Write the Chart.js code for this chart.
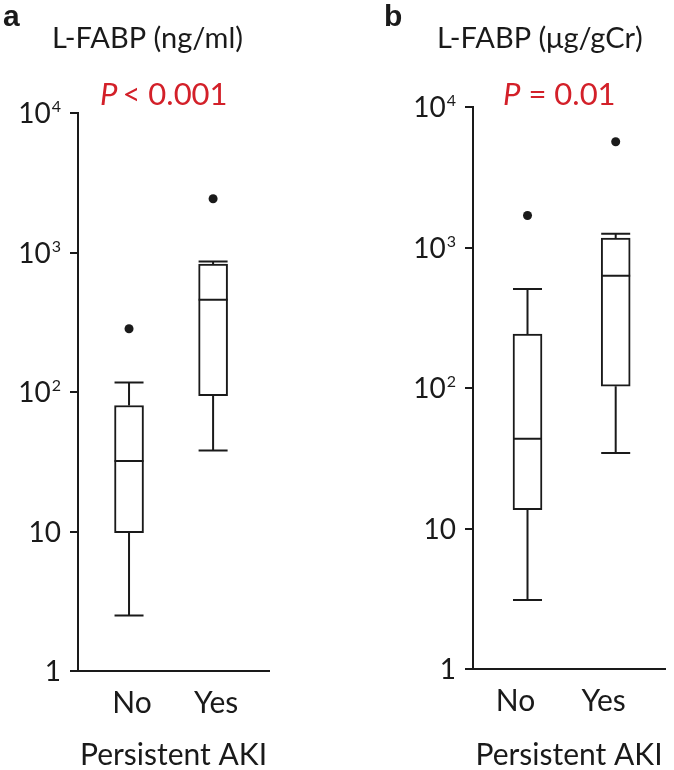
<!DOCTYPE html>
<html>
<head>
<meta charset="utf-8">
<script src="https://cdn.jsdelivr.net/npm/chart.js@4.4.1/dist/chart.umd.min.js"></script>
<style>
  body { margin: 0; background: #fff; }
  #wrap { position: relative; width: 674px; height: 770px; }
  .panel { position: absolute; top: 0; width: 337px; height: 770px; }
</style>
</head>
<body>
<div id="wrap">
  <div class="panel" style="left:0"><canvas id="chartA" width="337" height="770"></canvas></div>
  <div class="panel" style="left:337px"><canvas id="chartB" width="337" height="770"></canvas></div>
</div>
<script>
var categories = ['No', 'Yes'];
var yTickValues = [1, 10, 100, 1000, 10000];
var yTickBase = ['1', '10', '10', '10', '10'];
var yTickExp = ['', '', '2', '3', '4'];

// panel a : L-FABP (ng/ml)
var aMin = [2.5, 38];
var aQ1 = [9.8, 94];
var aMed = [32, 458];
var aQ3 = [80, 827];
var aMax = [117, 863];
var aOut = [284, 2430];

// panel b : L-FABP (ug/gCr)
var bMin = [3.1, 34.5];
var bQ1 = [13.6, 103];
var bMed = [43.5, 630];
var bQ3 = [242, 1169];
var bMax = [507, 1254];
var bOut = [1690, 5660];

var ink = '#1a1a1a';
var red = '#d32029';

function makePanel(id, s) {
  var extras = {
    id: 'extras' + id,
    afterDatasetsDraw: function(chart) {
      var ctx = chart.ctx;
      var xs = chart.scales.x, ys = chart.scales.y;
      var bars = chart.getDatasetMeta(0).data;
      ctx.save();
      ctx.strokeStyle = ink;
      ctx.lineWidth = 2;
      categories.forEach(function(c, i) {
        var x = xs.getPixelForValue(i + 1);
        var h = bars[i].width / 2;
        var yMin = ys.getPixelForValue(s.min[i]), yQ1 = ys.getPixelForValue(s.q1[i]);
        var yQ3 = ys.getPixelForValue(s.q3[i]), yMax = ys.getPixelForValue(s.max[i]);
        var yMed = ys.getPixelForValue(s.med[i]);
        ctx.beginPath();
        ctx.moveTo(x, yMin); ctx.lineTo(x, yQ1);
        ctx.moveTo(x, yQ3); ctx.lineTo(x, yMax);
        ctx.moveTo(x - h, yMin); ctx.lineTo(x + h, yMin);
        ctx.moveTo(x - h, yMax); ctx.lineTo(x + h, yMax);
        ctx.moveTo(x - h, yMed); ctx.lineTo(x + h, yMed);
        ctx.stroke();
      });
      ctx.restore();
    },
    afterDraw: function(chart) {
      var ctx = chart.ctx;
      var ys = chart.scales.y;
      ctx.save();
      ctx.fillStyle = ink;
      ctx.textBaseline = 'alphabetic';
      // y tick labels with superscripts
      yTickValues.forEach(function(v, i) {
        var y = ys.getPixelForValue(v);
        var right = chart.chartArea.left - 17;
        ctx.font = '16px Lato';
        var ew = yTickExp[i] ? ctx.measureText(yTickExp[i]).width + 1 : 0;
        if (yTickExp[i]) {
          ctx.textAlign = 'right';
          ctx.fillText(yTickExp[i], right, y - 1);
        }
        ctx.font = '28px Lato';
        ctx.textAlign = 'right';
        ctx.fillText(yTickBase[i], right - ew, y + 10);
      });
      // panel letter
      ctx.textAlign = 'left';
      ctx.font = 'bold 30px "Liberation Sans"';
      ctx.fillText(s.letter, s.letterX, 26);
      // measure title
      ctx.font = '29px Lato';
      ctx.fillText(s.title, s.titleX, 48);
      // p value
      ctx.fillStyle = red;
      ctx.font = 'italic 31px Lato';
      ctx.fillText('P', s.pX, 105);
      var pw = ctx.measureText('P').width;
      ctx.font = '31px Lato';
      ctx.fillText(s.pText, s.pX + pw + s.pGap, 105);
      ctx.restore();
    }
  };

  return new Chart(document.getElementById(id), {
    type: 'bar',
    data: {
      datasets: [{
        type: 'bar',
        data: categories.map(function(c, i) { return {x: i + 1, y: [s.q1[i], s.q3[i]]}; }),
        backgroundColor: '#fff',
        borderColor: ink,
        borderWidth: 2,
        borderSkipped: false,
        barThickness: 29
      }, {
        type: 'scatter',
        data: categories.map(function(c, i) { return {x: i + 1, y: s.out[i]}; }),
        backgroundColor: ink,
        borderWidth: 0,
        pointRadius: 4.5
      }]
    },
    options: {
      responsive: false,
      animation: false,
      layout: {padding: {top: s.top, right: s.right, left: 0, bottom: 0}},
      plugins: {legend: {display: false}, tooltip: {enabled: false}},
      scales: {
        x: {
          type: 'linear',
          min: s.xMin,
          max: s.xMax,
          offset: false,
          afterBuildTicks: function(sc) {
            sc.ticks = categories.map(function(c, i) { return {value: i + 1}; });
          },
          ticks: {
            callback: function(v) { return categories[v - 1]; },
            font: {family: 'Lato', size: 30},
            color: ink,
            padding: 14,
            labelOffset: s.labelOffset,
            autoSkip: false,
            maxRotation: 0
          },
          grid: {display: false, drawTicks: false},
          border: {display: true, color: ink, width: 2},
          title: {
            display: true,
            text: 'Persistent AKI',
            font: {family: 'Lato', size: 30, lineHeight: 1},
            color: ink,
            padding: {top: 0, bottom: 0}
          },
          afterFit: function(sc) { sc.height = 770 - s.bottom; }
        },
        y: {
          type: 'logarithmic',
          min: 1,
          max: 10000,
          afterBuildTicks: function(sc) {
            sc.ticks = yTickValues.map(function(v) { return {value: v}; });
          },
          ticks: {display: false},
          grid: {drawOnChartArea: false, drawTicks: true, tickLength: 8, color: ink, lineWidth: 2},
          border: {display: true, color: ink, width: 2},
          afterFit: function(sc) { sc.width = s.left; }
        }
      }
    },
    plugins: [extras]
  });
}

makePanel('chartA', {
  min: aMin, q1: aQ1, med: aMed, q3: aQ3, max: aMax, out: aOut,
  left: 78, right: 68, top: 113, bottom: 671,
  xMin: 0.393, xMax: 2.665, labelOffset: 3,
  letter: 'a', letterX: 3, title: 'L-FABP (ng/ml)', titleX: 52,
  pText: '< 0.001', pX: 100, pGap: 5
});

makePanel('chartB', {
  min: bMin, q1: bQ1, med: bMed, q3: bQ3, max: bMax, out: bOut,
  left: 136, right: 9, top: 107, bottom: 669,
  xMin: 0.382, xMax: 2.559, labelOffset: -12,
  letter: 'b', letterX: 47, title: 'L-FABP (\u03bcg/gCr)', titleX: 100,
  pText: '= 0.01', pX: 166, pGap: 8
});
</script>
</body>
</html>
